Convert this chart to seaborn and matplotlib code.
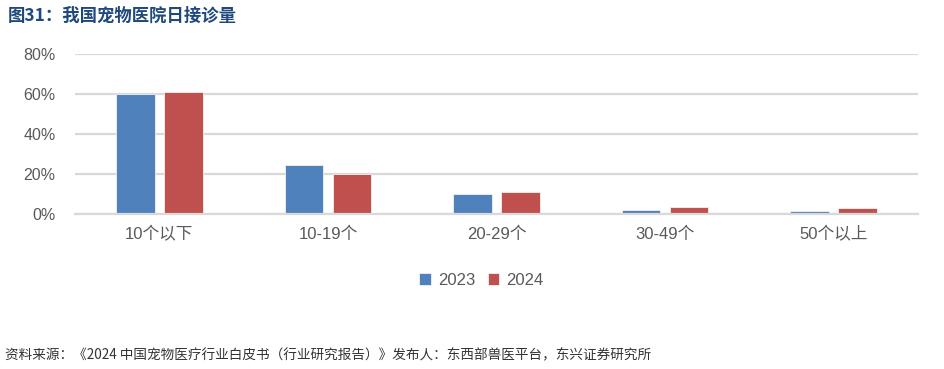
import matplotlib
matplotlib.use("Agg")
import matplotlib.pyplot as plt
import seaborn as sns
import pandas as pd
from matplotlib.ticker import FuncFormatter

categories = ["10个以下", "10-19个", "20-29个", "30-49个", "50个以上"]
years = ["2023", "2024"]
v2023 = [60.0, 24.5, 10.0, 2.2, 1.6]
v2024 = [61.0, 20.0, 11.2, 3.6, 2.8]
colors = ["#4F81BD", "#C0504D"]

df = pd.DataFrame({
    "cat": categories * 2,
    "year": [years[0]] * len(categories) + [years[1]] * len(categories),
    "value": v2023 + v2024,
})

sns.set_style("white")
plt.rcParams["font.family"] = ["Liberation Sans", "Noto Sans CJK SC", "DejaVu Sans"]

fig = plt.figure(figsize=(9.45, 3.69), dpi=100)
ax = fig.add_axes([0.0794, 0.42, 0.892, 0.4337])

sns.barplot(data=df, x="cat", y="value", hue="year", palette=colors,
            width=0.57, gap=0.2, edgecolor="#f2f2f2", linewidth=0.6,
            saturation=1, ax=ax)

ax.set_ylim(0, 80)
ax.set_yticks([0, 20, 40, 60, 80])
ax.yaxis.set_major_formatter(FuncFormatter(lambda v, p: f"{v:.0f}%"))
ax.grid(axis="y", color="#d9d9d9", linewidth=1.6)
ax.set_axisbelow(True)
for s in ["top", "right", "left"]:
    ax.spines[s].set_visible(False)
ax.spines["bottom"].set_color("#d9d9d9")
ax.spines["bottom"].set_linewidth(1.6)
ax.tick_params(axis="both", length=0, colors="#595959")
ax.tick_params(axis="y", labelsize=11.5, pad=14)
ax.tick_params(axis="x", labelsize=12, pad=9)
ax.set_xlabel("")
ax.set_ylabel("")

ax.legend(loc="center", bbox_to_anchor=(0.482, -0.415), ncol=2, frameon=False,
          fontsize=12, handlelength=0.7, handleheight=0.7, columnspacing=0.75,
          handletextpad=0.4, labelcolor="#595959")

fig.text(0.008, 0.958, "图31：我国宠物医院日接诊量", fontsize=12.5, fontweight="bold",
         color="#1F497D", va="center", ha="left",
         family=["Noto Sans CJK SC", "DejaVu Sans"])
fig.text(0.005, 0.038, "资料来源：《2024 中国宠物医疗行业白皮书（行业研究报告）》发布人：东西部兽医平台，东兴证券研究所",
         fontsize=9.8, style="italic", color="#333333", va="center", ha="left",
         family=["Noto Sans CJK SC", "DejaVu Sans"])

fig.savefig("out.png", dpi=100)
